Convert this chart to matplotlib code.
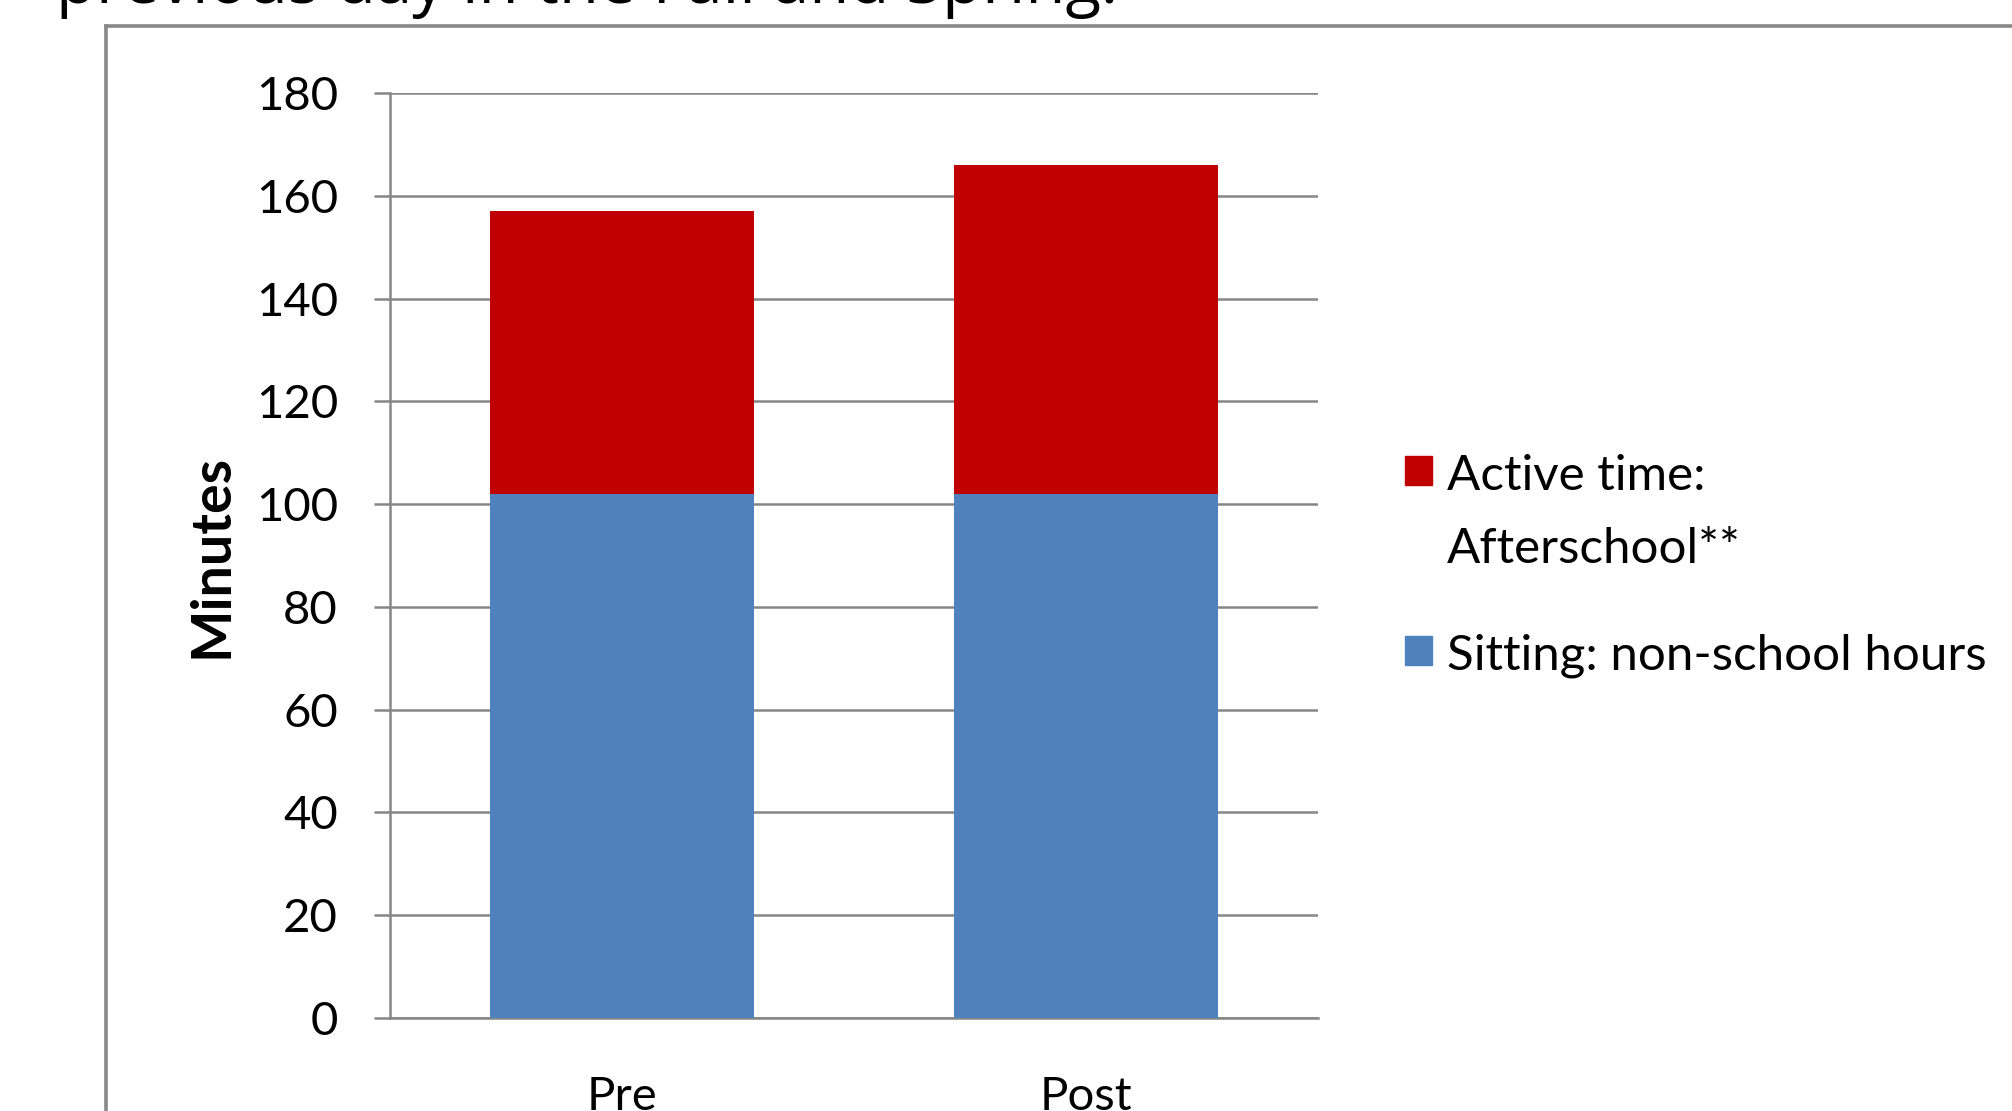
import numpy as np
import matplotlib
matplotlib.use("Agg")
import matplotlib.pyplot as plt
from matplotlib.lines import Line2D
from matplotlib.patches import Rectangle

categories = ["Pre", "Post"]
sitting = [102, 102]
active = [55, 64]
series_names = ["Sitting: non-school hours", "Active time:\nAfterschool**"]
series_colors = ["#4F81BD", "#C00000"]
yticks = [0, 20, 40, 60, 80, 100, 120, 140, 160, 180]

W, H = 2012, 1111
plt.rcParams["font.family"] = ["Lato", "DejaVu Sans"]

fig = plt.figure(figsize=(W / 100, H / 100), dpi=100)
ax = fig.add_axes([390 / W, 1 - 1018 / H, 928 / W, 925 / H])

x = np.arange(len(categories))
ax.bar(x, sitting, width=0.57, color=series_colors[0], zorder=3)
ax.bar(x, active, width=0.57, bottom=sitting, color=series_colors[1], zorder=3)

ax.set_xlim(-0.5, 1.5)
ax.set_ylim(0, 180)
ax.set_yticks(yticks)
ax.set_xticks(x)
ax.set_xticklabels(categories)

grey = "#868686"
ax.grid(axis="y", color=grey, linewidth=1.8, zorder=1)
for side in ["top", "right"]:
    ax.spines[side].set_visible(False)
for side in ["left", "bottom"]:
    ax.spines[side].set_color(grey)
    ax.spines[side].set_linewidth(1.8)
ax.tick_params(axis="y", length=11.5, width=1.8, color=grey, pad=26,
               labelsize=34)
ax.tick_params(axis="x", length=0, pad=42, labelsize=34)
ax.set_ylabel("Minutes", fontsize=40, fontweight="bold", labelpad=14)

# legend drawn by hand so the swatch sits on the first line of the label
leg_x = 1405 / W
text_x = 1447 / W
sq_w, sq_h = 27 / W, 29 / H
for name, color, yc in [(series_names[1], series_colors[1], 471),
                        (series_names[0], series_colors[0], 651)]:
    fig.patches.append(Rectangle((leg_x, 1 - (yc + 14) / H), sq_w, sq_h,
                                 transform=fig.transFigure, color=color))
    fig.text(text_x, 1 - (yc - 17) / H, name, fontsize=35.5, va="top",
             ha="left", linespacing=1.8)

# outer frame and the heading above it
fl = 106 / W
ft = 1 - 26 / H
fig.add_artist(Line2D([fl, 1.0], [ft, ft], transform=fig.transFigure,
                      color="#888888", linewidth=2.6))
fig.add_artist(Line2D([fl, fl], [0, ft], transform=fig.transFigure,
                      color="#888888", linewidth=2.6))
fig.text(56 / W, 1 - 3 / H, "previous day in the Fall and Spring.",
         fontsize=47, va="baseline", ha="left", family=["Open Sans"])

fig.savefig("out.png", dpi=100)
